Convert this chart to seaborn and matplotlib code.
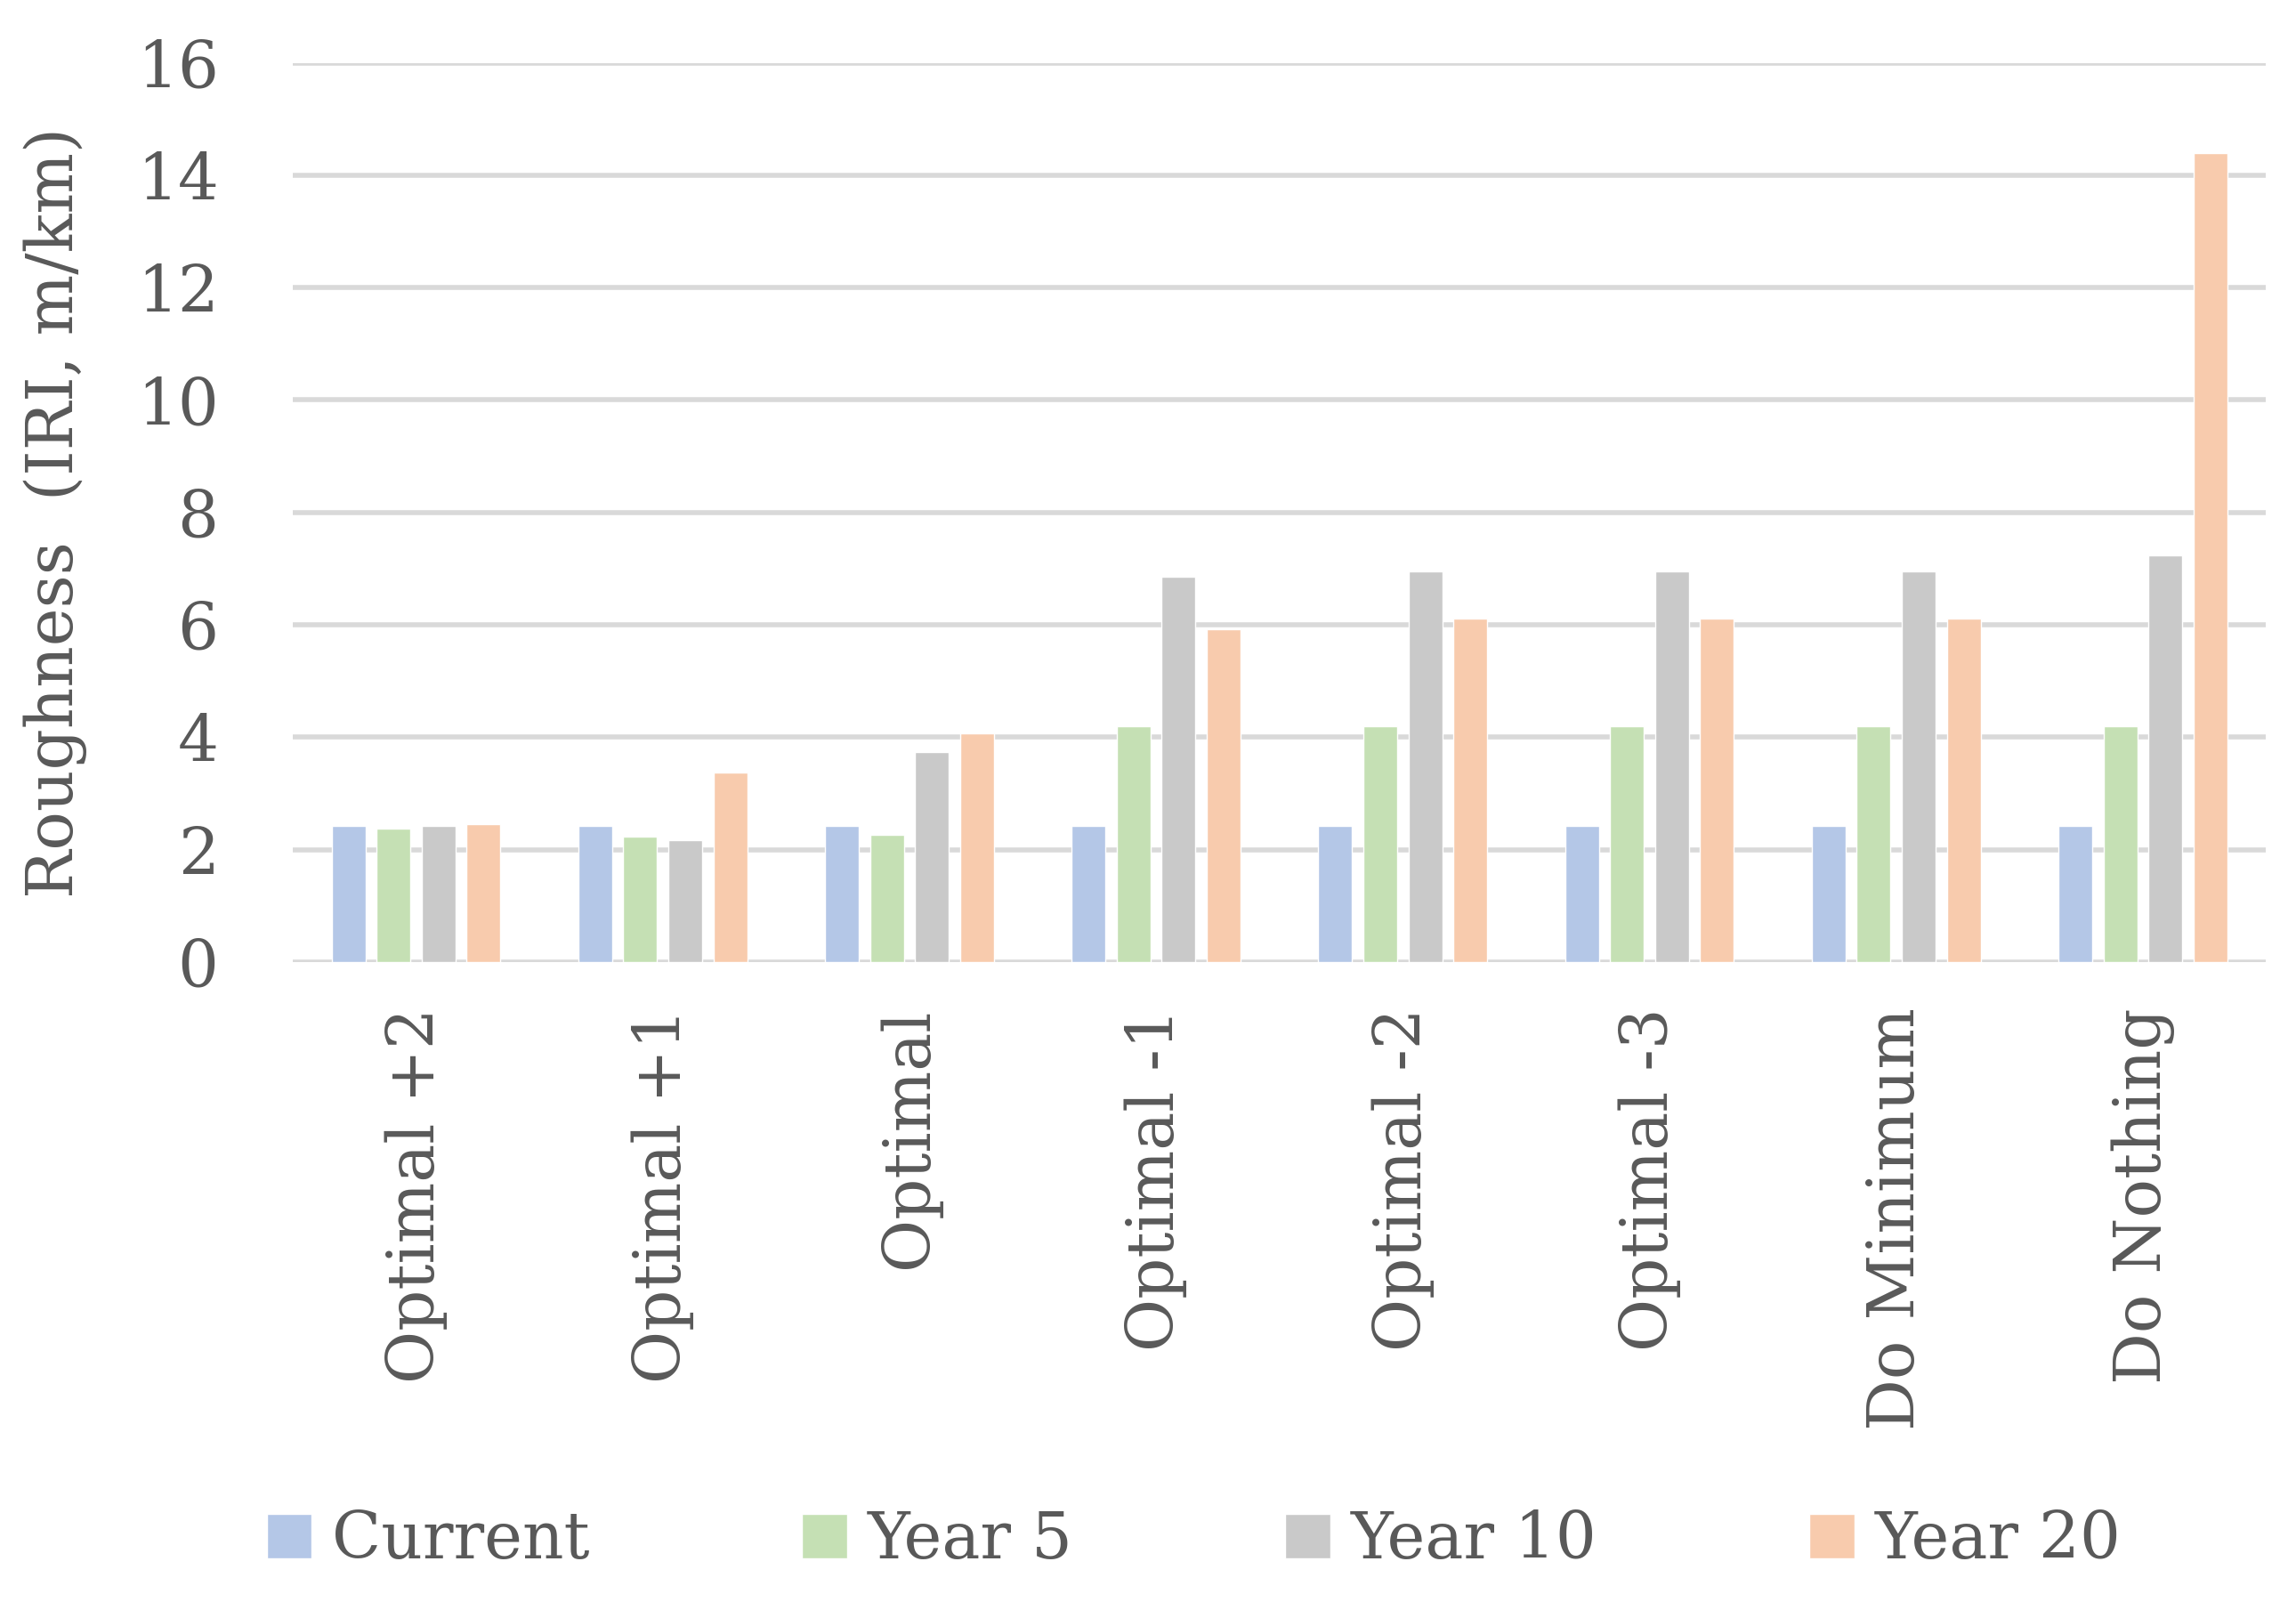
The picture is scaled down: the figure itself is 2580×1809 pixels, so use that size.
import matplotlib
matplotlib.use("Agg")
import matplotlib.pyplot as plt
import pandas as pd
import seaborn as sns

# Valores (IRI, m/km)
categorias = ["Optimal +2", "Optimal +1", "Optimal", "Optimal -1",
              "Optimal -2", "Optimal -3", "Do Minimum", "Do Nothing"]
series = ["Current", "Year 5", "Year 10", "Year 20"]

current = [2.43, 2.43, 2.43, 2.43, 2.43, 2.43, 2.43, 2.43]
year_5 = [2.38, 2.23, 2.26, 4.19, 4.19, 4.19, 4.19, 4.19]
year_10 = [2.43, 2.17, 3.74, 6.86, 6.95, 6.95, 6.95, 7.23]
year_20 = [2.46, 3.38, 4.07, 5.92, 6.12, 6.12, 6.12, 14.40]

cores = ["#b4c7e7", "#c5e0b4", "#c9c9c9", "#f8cbad"]
cor_texto = "#595959"

df = pd.DataFrame({
    "cenario": categorias * 4,
    "serie": [s for s in series for _ in categorias],
    "valor": current + year_5 + year_10 + year_20,
})

sns.set_theme(style="white")
plt.rcParams["font.family"] = ["DejaVu Serif"]

fig = plt.figure(figsize=(25.8, 18.09), dpi=100)
ax = fig.add_axes([0.1275, 0.4024, 0.8595, 0.5586])

sns.barplot(data=df, x="cenario", y="valor", hue="serie", order=categorias,
            hue_order=series, palette=cores, width=0.73, gap=0.25,
            saturation=1, errorbar=None, ax=ax, zorder=3)

ax.set_ylim(0, 16)
ax.set_xlim(-0.5, 7.5)
ax.set_yticks(range(0, 17, 2))
ax.yaxis.grid(True, color="#d9d9d9", linewidth=4, zorder=0)
ax.set_axisbelow(True)
for lado in ["top", "right", "left", "bottom"]:
    ax.spines[lado].set_visible(False)

ax.tick_params(axis="both", length=0, labelsize=52, colors=cor_texto)
ax.tick_params(axis="x", pad=37)
ax.tick_params(axis="y", pad=60)
plt.setp(ax.get_xticklabels(), rotation=90)
ax.set_xlabel("")
ax.set_ylabel("Roughness  (IRI, m/km)", fontsize=52, color=cor_texto, labelpad=40)

handles, labels = ax.get_legend_handles_labels()
ax.legend_.remove()
fig.legend(handles, labels, loc="center", bbox_to_anchor=(0.52, 0.043), ncol=4,
           frameon=False, fontsize=52, labelcolor=cor_texto,
           handlelength=0.7, handleheight=0.7, handletextpad=0.32,
           columnspacing=3.3)

fig.savefig("out.png", dpi=100)
plt.close(fig)
